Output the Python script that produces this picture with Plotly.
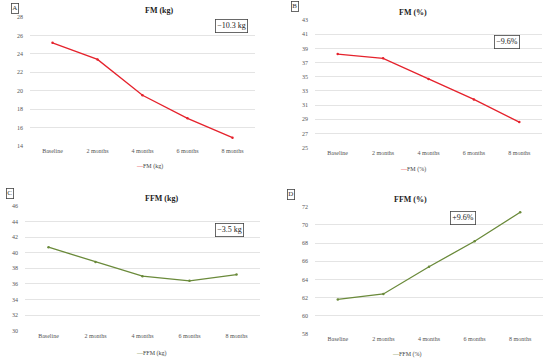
import plotly.graph_objects as go

categories = ["Baseline", "2 months", "4 months", "6 months", "8 months"]
fm_kg = [25.2, 23.4, 19.5, 17.0, 14.9]
fm_pct = [38.2, 37.6, 34.7, 31.8, 28.6]
ffm_kg = [40.7, 38.8, 37.0, 36.4, 37.2]
ffm_pct = [61.8, 62.4, 65.4, 68.2, 71.4]

titles = ["FM (kg)", "FM (%)", "FFM (kg)", "FFM (%)"]
series_names = ["FM (kg)", "FM (%)", "FFM (kg)", "FFM (%)"]
changes = ["\u221210.3 kg", "\u22129.6%", "\u22123.5 kg", "+9.6%"]
letters = ["A", "B", "C", "D"]
yranges = [[14, 28], [25, 43], [30, 46], [58, 72]]

RED = "#e5222c"
GREEN = "#6a8a3a"
colors = [RED, RED, GREEN, GREEN]
data = [fm_kg, fm_pct, ffm_kg, ffm_pct]

W, H = 550, 360
# plot areas in pixels: (x0, x1, ytop, ybottom)
areas = [(30, 255, 17, 146), (315, 542, 20, 147.7), (25, 260, 205.7, 331), (315, 543, 206.7, 334)]
change_pos = [(231, 26), (520, 41.5), (230, 230), (475.5, 217.5)]
letter_pos = [(11, 8), (294.5, 6.5), (5.5, 193), (290.5, 194)]
legend_pos = [(134, 166), (428, 169), (134, 353.5), (424, 354)]

font = "Liberation Serif"
fig = go.Figure()
annotations = []
for i in range(4):
    x0, x1, yt, yb = areas[i]
    ax = "" if i == 0 else str(i + 1)
    fig.add_trace(go.Scatter(
        x=categories, y=data[i], mode="lines+markers", name=series_names[i],
        line=dict(color=colors[i], width=1.3), marker=dict(size=2.5, color=colors[i]),
        xaxis="x" + ax, yaxis="y" + ax, showlegend=False,
    ))
    lo, hi = yranges[i]
    fig.layout["xaxis" + ax] = dict(
        domain=[x0 / W, x1 / W], anchor="y" + ax, range=[-0.5, 4.5], showgrid=False,
        zeroline=False, showline=False, ticks="",
        tickfont=dict(size=6, color="#555", family=font),
    )
    fig.layout["yaxis" + ax] = dict(
        domain=[1 - yb / H, 1 - yt / H], anchor="x" + ax, range=[lo - 0.01, hi + 0.01],
        tick0=lo, dtick=2, showgrid=True, gridcolor="#e4e4e4", gridwidth=0.8,
        zeroline=False, showline=False, ticks="",
        tickfont=dict(size=6, color="#555", family=font), ticklabelstandoff=6,
    )
    annotations.append(dict(
        text=f"<b>{titles[i]}</b>", x=(x0 + x1) / 2 / W, y=1 - (yt - 7) / H,
        xref="paper", yref="paper", showarrow=False, yanchor="middle",
        font=dict(size=8, color="#222", family=font),
    ))
    cx, cy = change_pos[i]
    annotations.append(dict(
        text=changes[i], x=cx / W, y=1 - cy / H, xref="paper", yref="paper", showarrow=False,
        yanchor="middle", font=dict(size=8, color="#222", family=font),
        bordercolor="#444", borderwidth=0.8, borderpad=1.5, bgcolor="white",
    ))
    lx, ly = letter_pos[i]
    annotations.append(dict(
        text=letters[i], x=lx / W, y=1 - ly / H, xref="paper", yref="paper", showarrow=False,
        yanchor="middle", font=dict(size=7, color="#333", family=font),
        bordercolor="#444", borderwidth=0.8, borderpad=0.5, bgcolor="white",
    ))
    gx, gy = legend_pos[i]
    annotations.append(dict(
        text=f"<span style='color:{colors[i]}'>\u2014</span>{series_names[i]}",
        x=gx / W, y=1 - gy / H, xref="paper", yref="paper", showarrow=False,
        yanchor="middle", font=dict(size=6, color="#444", family=font),
    ))

fig.update_layout(
    width=W, height=H, margin=dict(l=0, r=0, t=0, b=0, autoexpand=False),
    paper_bgcolor="white", plot_bgcolor="white", showlegend=False,
    annotations=annotations, font=dict(family=font),
)
fig.write_html(
    "out.html",
    config={"displayModeBar": False},
    post_script="document.body.style.margin='0';document.body.style.overflow='hidden';",
)
